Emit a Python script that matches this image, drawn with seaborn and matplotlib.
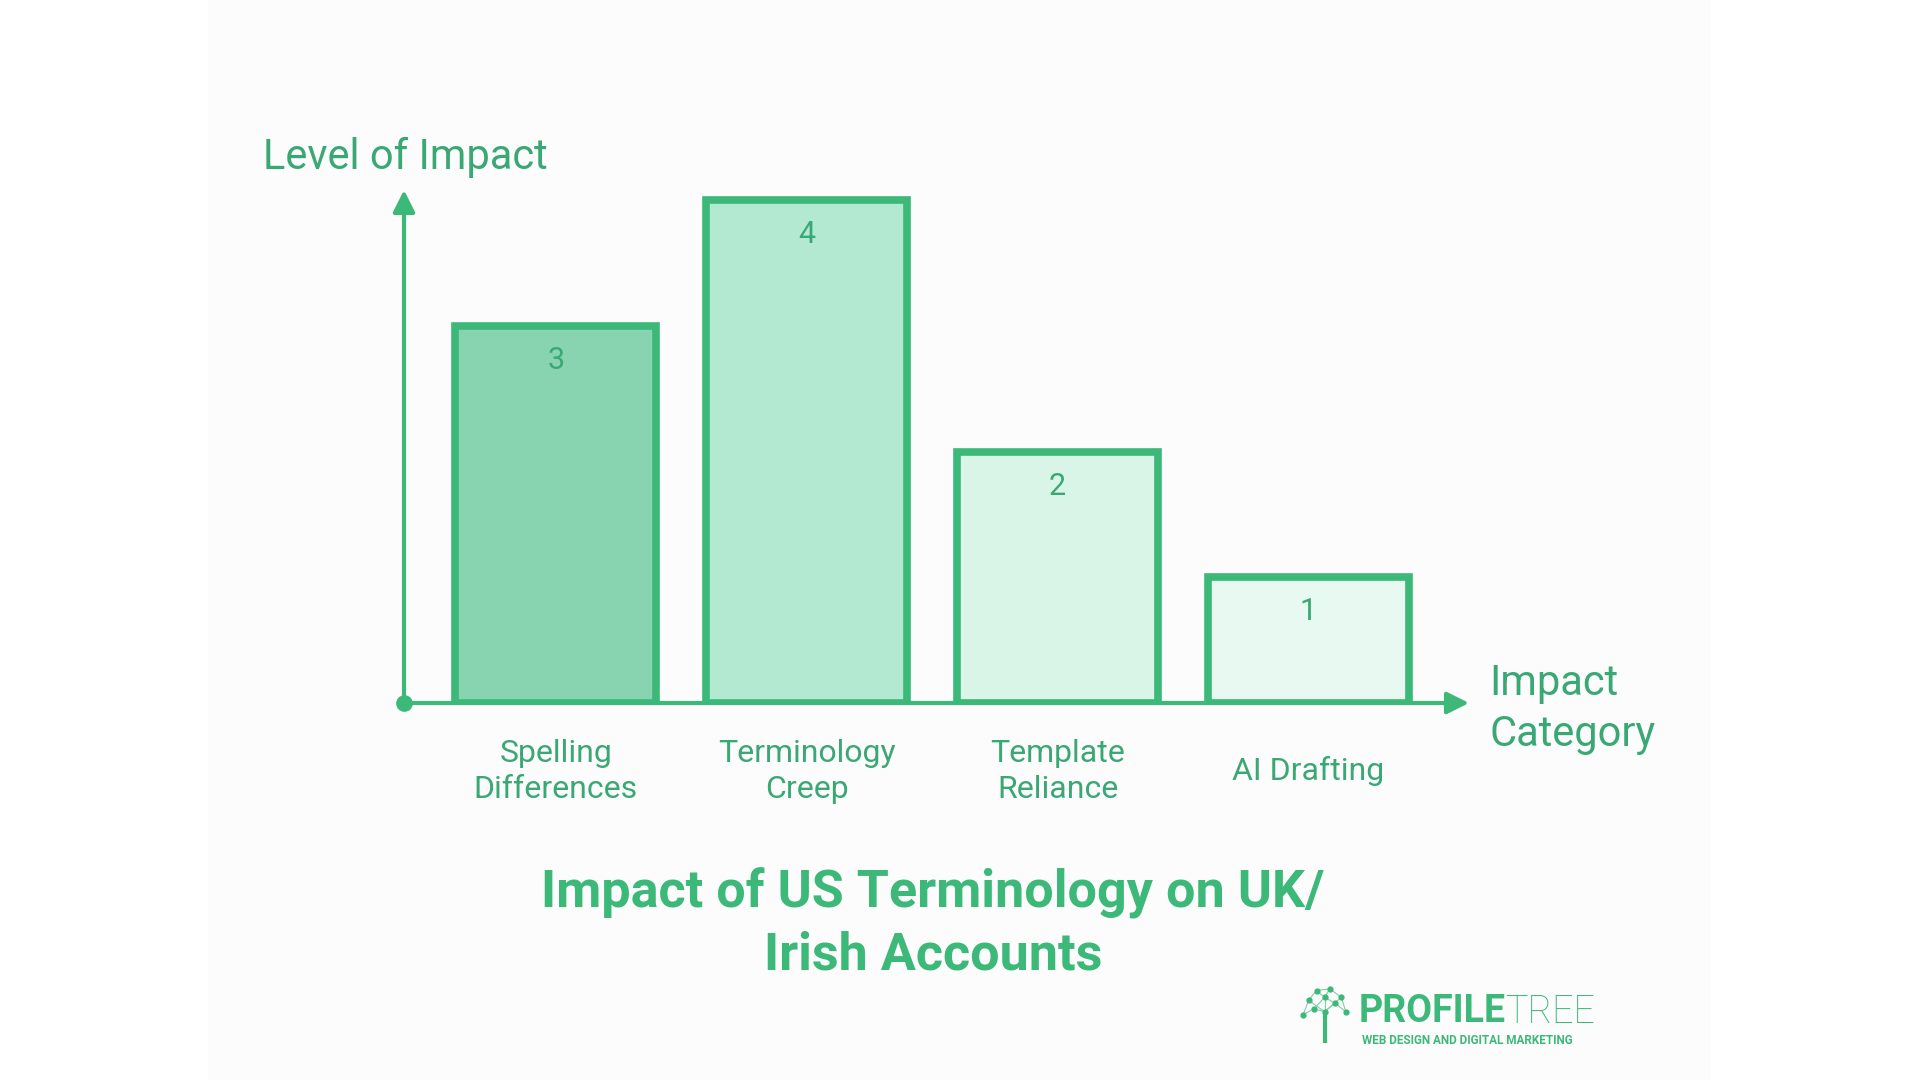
import seaborn as sns
import matplotlib.pyplot as plt
import matplotlib.patches as mpatches
import pandas as pd

# data
categories = ["Spelling\nDifferences", "Terminology\nCreep", "Template\nReliance", "AI Drafting"]
impact = [3, 4, 2, 1]
fills = ["#88d4b1", "#b3e9d0", "#d9f5e8", "#e7f9f0"]

green = "#3cb878"
text_green = "#3aa874"

df = pd.DataFrame({"Category": categories, "Impact": impact})

sns.set_theme(style="white")
plt.rcParams["font.family"] = ["Roboto", "DejaVu Sans"]

fig = plt.figure(figsize=(19.2, 10.8), dpi=100)
fig.patch.set_facecolor("white")

# faint off-white panel behind the chart
fig.patches.append(mpatches.Rectangle((208 / 1920, 0), (1711 - 208) / 1920, 1,
                                      transform=fig.transFigure, facecolor="#fcfcfc",
                                      edgecolor="none", zorder=-10))

ax = fig.add_axes([404 / 1920, 1 - 703 / 1080, (1469 - 404) / 1920, (703 - 190) / 1080])
ax.set_facecolor("none")

sns.barplot(data=df, x="Category", y="Impact", hue="Category", palette=fills,
            saturation=1, edgecolor=green, linewidth=5.5, width=0.8, legend=False,
            ax=ax, zorder=3)

ax.set_xlim(-0.605, 3.64)
ax.set_ylim(0, 4.08)

for s in ax.spines.values():
    s.set_visible(False)
ax.set_yticks([])
ax.set_xlabel("")
ax.set_ylabel("")

# axis arrows and origin dot
arrow = dict(arrowstyle="-|>,head_length=1.1,head_width=0.55",
             color=green, lw=3, shrinkA=0, shrinkB=0)
ax.annotate("", xy=(1, 0), xytext=(0, 0), xycoords="axes fraction", arrowprops=arrow, zorder=2)
ax.annotate("", xy=(0, 1), xytext=(0, 0), xycoords="axes fraction", arrowprops=arrow, zorder=2)
ax.plot([0], [0], "o", color=green, markersize=11, transform=ax.transAxes,
        clip_on=False, zorder=4)

# category labels
ax.tick_params(axis="x", length=0, pad=49, labelsize=23, labelcolor=text_green)
for lab in ax.get_xticklabels():
    lab.set_va("center")
    lab.set_ha("center")
    lab.set_linespacing(1.3)

# value labels inside bars near top
for i, v in enumerate(impact):
    ax.annotate(str(v), xy=(i, v), xytext=(0, -25), textcoords="offset points",
                ha="center", va="center", fontsize=22, color=text_green, zorder=5)

fig.text(263 / 1920, 1 - 157 / 1080, "Level of Impact", fontsize=30,
         color=text_green, ha="left", va="center")
fig.text(1489 / 1920, 1 - 709 / 1080, "Impact\nCategory", fontsize=30,
         color=text_green, ha="left", va="center", linespacing=1.3)

fig.text(933 / 1920, 1 - 924 / 1080, "Impact of US Terminology on UK/\nIrish Accounts",
         fontsize=37.5, fontweight="bold", color=green, ha="center", va="center",
         linespacing=1.3)

# logo
t1 = fig.text(1359 / 1920, 1 - 1012 / 1080, "PROFILE", fontsize=27, fontweight="bold",
              color=green, ha="left", va="center")
r = fig.canvas.get_renderer()
x_end = t1.get_window_extent(r).x1 / fig.bbox.width
fig.text(x_end, 1 - 1012 / 1080, "TREE", fontsize=27, fontweight="light",
         color=green, ha="left", va="center")
fig.text(1362 / 1920, 1 - 1040 / 1080, "WEB DESIGN AND DIGITAL MARKETING", fontsize=8.5,
         fontweight="bold", color=green, ha="left", va="center")

icon = fig.add_axes([1298 / 1920, 1 - 1043 / 1080, 53 / 1920, 57 / 1080])
icon.set_xlim(0, 1)
icon.set_ylim(0, 1)
icon.axis("off")
nodes = [(0.5, 0.55), (0.2, 0.75), (0.35, 0.92), (0.6, 0.95), (0.82, 0.8),
         (0.9, 0.55), (0.1, 0.5), (0.3, 0.6), (0.7, 0.7), (0.5, 0.8)]
for a, b in [(0, 1), (0, 4), (1, 2), (2, 3), (3, 4), (4, 5), (1, 6), (6, 7), (7, 0),
             (0, 8), (8, 5), (9, 2), (9, 3), (9, 0), (7, 9), (8, 9)]:
    icon.plot([nodes[a][0], nodes[b][0]], [nodes[a][1], nodes[b][1]],
              color="#7fcfa6", lw=0.8)
icon.plot([n[0] for n in nodes], [n[1] for n in nodes], "o", color=green, ms=3.5)
icon.plot([0.5, 0.5], [0.0, 0.55], color=green, lw=3)

fig.savefig("out.png", dpi=100)
plt.close(fig)
